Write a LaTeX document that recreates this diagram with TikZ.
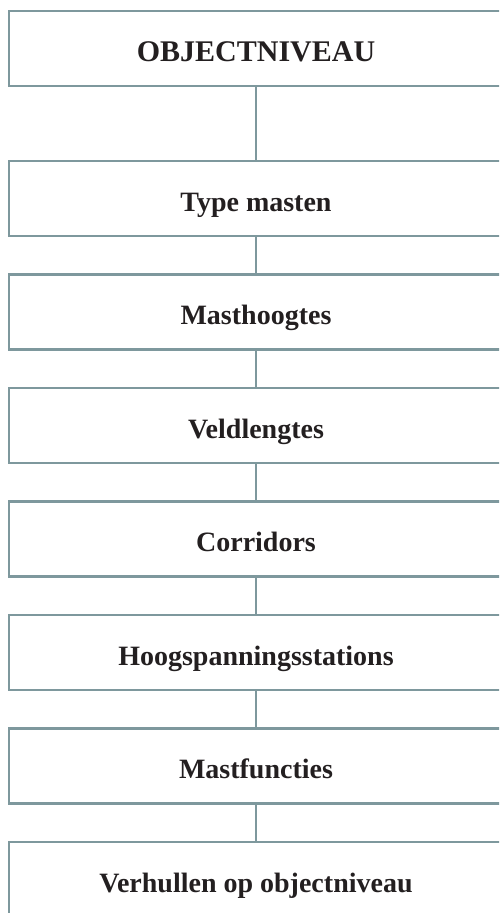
\documentclass[tikz,border=0pt]{standalone}
\usepackage{fontspec}
\setmainfont{Liberation Serif}
\definecolor{edgec}{RGB}{126,152,157}
\definecolor{txtc}{RGB}{35,31,32}
\begin{document}
\begin{tikzpicture}[x=1pt,y=-1pt,
  box/.style={draw=edgec,line width=2.8pt,rectangle,minimum width=494pt,minimum height=75pt,inner sep=0pt,
    text height=25pt,text depth=0pt,
    font=\fontsize{28}{32}\selectfont\bfseries,text=txtc},
  link/.style={draw=edgec,line width=2.8pt}]
\useasboundingbox (0,0) rectangle (499,913);
\clip (0,0) rectangle (499,913);
\node[box,font=\fontsize{30}{34}\selectfont\bfseries] (b0) at (256,48.5) {OBJECTNIVEAU};
\node[box] (b1) at (256,198.5) {Type masten};
\node[box] (b2) at (256,312) {Masthoogtes};
\node[box] (b3) at (256,425.5) {Veldlengtes};
\node[box] (b4) at (256,539) {Corridors};
\node[box] (b5) at (256,652.5) {Hoogspanningsstations};
\node[box] (b6) at (256,766) {Mastfuncties};
\node[box] (b7) at (256,879.5) {Verhullen op objectniveau};
\draw[link] (b0) -- (b1);
\draw[link] (b1) -- (b2);
\draw[link] (b2) -- (b3);
\draw[link] (b3) -- (b4);
\draw[link] (b4) -- (b5);
\draw[link] (b5) -- (b6);
\draw[link] (b6) -- (b7);
\end{tikzpicture}
\end{document}
